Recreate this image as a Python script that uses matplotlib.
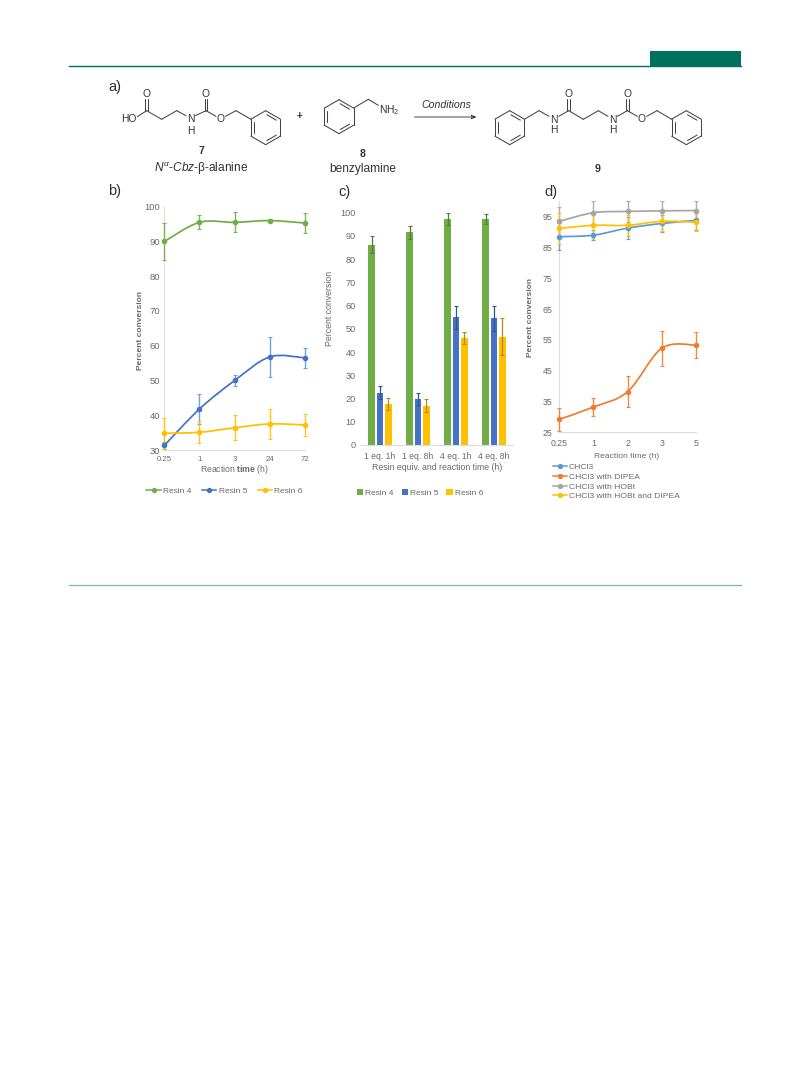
import matplotlib
matplotlib.use("Agg")
import matplotlib.pyplot as plt
from matplotlib.lines import Line2D
from matplotlib.patches import PathPatch, Rectangle, Polygon
from matplotlib.path import Path
import numpy as np

plt.rcParams['font.family'] = ['Liberation Sans', 'DejaVu Sans']
plt.rcParams['mathtext.fontset'] = 'custom'
plt.rcParams['mathtext.rm'] = 'Liberation Sans'
plt.rcParams['mathtext.bf'] = 'Liberation Sans:bold'
plt.rcParams['mathtext.it'] = 'Liberation Sans:italic'

# ---- data ----
times_b = ['0.25', '1', '3', '24', '72']
resin4_b = [90.0, 95.5, 95.5, 96.0, 95.3]
resin4_b_err = [5.3, 2.0, 2.9, 0.5, 2.9]
resin5_b = [31.3, 41.8, 50.0, 56.8, 56.5]
resin5_b_err = [1.0, 4.2, 1.5, 5.7, 2.8]
resin6_b = [34.8, 35.1, 36.4, 37.5, 37.2]
resin6_b_err = [4.5, 3.1, 3.6, 4.4, 3.3]

cats_c = ['1 eq. 1h', '1 eq. 8h', '4 eq. 1h', '4 eq. 8h']
resin4_c = [86.3, 91.5, 97.3, 97.3]
resin4_c_err = [3.7, 2.8, 2.7, 2.0]
resin5_c = [22.5, 19.7, 55.0, 54.5]
resin5_c_err = [2.8, 2.5, 5.0, 5.5]
resin6_c = [17.7, 17.0, 46.0, 46.7]
resin6_c_err = [2.6, 2.7, 2.5, 8.0]

times_d = ['0.25', '1', '2', '3', '5']
chcl3 = [88.5, 89.0, 91.3, 92.8, 93.8]
chcl3_err = [4.3, 1.7, 3.7, 2.7, 3.0]
dipea = [29.2, 33.2, 38.2, 52.3, 53.3]
dipea_err = [3.7, 3.0, 5.0, 5.7, 4.2]
hobt = [93.5, 96.3, 96.7, 96.9, 97.0]
hobt_err = [4.8, 3.7, 3.3, 3.1, 3.0]
hobt_dipea = [91.2, 92.2, 92.2, 93.5, 93.2]
hobt_dipea_err = [5.0, 4.0, 3.5, 3.0, 3.0]

GREEN, BLUE, YEL = '#70ad47', '#4472c4', '#ffc000'
LBLUE, ORANGE, GRAY = '#5b9bd5', '#ed7d31', '#a5a5a5'
TXT = '#6a6a6a'
TEAL = '#00705f'
W, H = 809, 1067

fig = plt.figure(figsize=(W / 100, H / 100), dpi=100, facecolor='white')


def axpx(l, t, r, b):
    return fig.add_axes([l / W, 1 - b / H, (r - l) / W, (b - t) / H])


def style(ax, fs=6.4):
    ax.set_facecolor('none')
    for s in ('top', 'right'):
        ax.spines[s].set_visible(False)
    for s in ('left', 'bottom'):
        ax.spines[s].set_color('#dcdcdc')
        ax.spines[s].set_linewidth(0.8)
    ax.tick_params(length=0, labelsize=fs, labelcolor=TXT, pad=3)


def smooth_path(x, y):
    """Spreadsheet-style smoothed line through the data points."""
    x = np.asarray(x, float); y = np.asarray(y, float)
    n = len(x)
    verts = [(x[0], y[0])]; codes = [Path.MOVETO]
    for i in range(n - 1):
        p0 = i - 1 if i > 0 else 0
        p3 = i + 2 if i + 2 < n else n - 1
        verts += [(x[i] + (x[i + 1] - x[p0]) / 6, y[i] + (y[i + 1] - y[p0]) / 6),
                  (x[i + 1] - (x[p3] - x[i]) / 6, y[i + 1] - (y[p3] - y[i]) / 6),
                  (x[i + 1], y[i + 1])]
        codes += [Path.CURVE4] * 3
    return Path(verts, codes)


def series(ax, y, err, col, ecol=None, ms=3.0):
    x = np.arange(len(y))
    ax.add_patch(PathPatch(smooth_path(x, y), fc='none', ec=col, lw=1.25, clip_on=False, zorder=3))
    cont = ax.errorbar(x, y, yerr=err, fmt='none', ecolor=ecol or col, elinewidth=1.0, capsize=1.3,
                       capthick=0.8, zorder=2.8, alpha=0.9)
    for art in list(cont[1]) + list(cont[2]):
        art.set_clip_on(False)
    ax.plot(x, y, ls='none', marker='o', ms=ms, color=col, clip_on=False, zorder=4)


def handle(col):
    return Line2D([], [], color=col, lw=1.1, marker='o', ms=2.8)


# ---- panel b ----
axb = axpx(164.3, 206.7, 305, 450)
style(axb)
series(axb, resin4_b, resin4_b_err, GREEN)
series(axb, resin5_b, resin5_b_err, BLUE, LBLUE)
series(axb, resin6_b, resin6_b_err, YEL)
axb.set_xlim(0, 4); axb.set_ylim(30, 100)
axb.set_xticks(range(5), times_b)
axb.tick_params(axis='x', labelsize=5.6, pad=4)
axb.tick_params(axis='y', labelsize=6.8)
axb.set_yticks(range(30, 101, 10))
fig.text(140 / W, 1 - 331 / H, 'Percent conversion', rotation=90, fontsize=6, color=TXT,
         ha='center', va='center', fontweight='bold')
fig.text(234 / W, 1 - 470 / H, r'Reaction $\mathbf{time}$ (h)', fontsize=6.2, color=TXT, ha='center', va='center')
fig.legend(handles=[handle(GREEN), handle(BLUE), handle(YEL)], labels=['Resin 4', 'Resin 5', 'Resin 6'],
           loc='center', bbox_to_anchor=(224.5 / W, 1 - 491.5 / H), ncol=3, frameon=False, fontsize=6,
           labelcolor=TXT, handlelength=1.75, handletextpad=0.25, columnspacing=1.25, borderpad=0)

# ---- panel c ----
axc = axpx(361, 212.7, 513, 445)
style(axc)
xc = np.arange(4)
bw, step = 0.175, 0.22
axc.bar(xc - step, resin4_c, bw, color=GREEN, yerr=resin4_c_err, label='Resin 4',
        error_kw=dict(ecolor='#4f7f33', elinewidth=0.9, capsize=1.3, capthick=0.8))
axc.bar(xc, resin5_c, bw, color=BLUE, yerr=resin5_c_err, label='Resin 5',
        error_kw=dict(ecolor='#2f5597', elinewidth=0.9, capsize=1.3, capthick=0.8))
axc.bar(xc + step, resin6_c, bw, color=YEL, yerr=resin6_c_err, label='Resin 6',
        error_kw=dict(ecolor='#b88a10', elinewidth=0.9, capsize=1.3, capthick=0.8))
axc.set_xlim(-0.5, 3.5); axc.set_ylim(0, 100)
axc.set_xticks(xc, cats_c)
axc.set_yticks(range(0, 101, 10))
axc.spines['left'].set_visible(False)
axc.tick_params(axis='x', labelsize=6.2, pad=5)
axc.tick_params(axis='y', labelsize=6.6, pad=4)
fig.text(329 / W, 1 - 308 / H, 'Percent conversion', rotation=90, fontsize=6.3, color=TXT, ha='center', va='center')
fig.text(437 / W, 1 - 467 / H, 'Resin equiv. and reaction time (h)', fontsize=6.3, color=TXT, ha='center', va='center')
h, l = axc.get_legend_handles_labels()
fig.legend(h, l, loc='center', bbox_to_anchor=(420 / W, 1 - 493 / H), ncol=3, frameon=False, fontsize=6,
           labelcolor=TXT, handlelength=0.75, handleheight=0.75, handletextpad=0.25, columnspacing=0.95, borderpad=0)

# ---- panel d ----
axd = axpx(559.3, 201.3, 696, 432.3)
style(axd)
series(axd, chcl3, chcl3_err, LBLUE)
series(axd, dipea, dipea_err, ORANGE)
series(axd, hobt, hobt_err, GRAY)
series(axd, hobt_dipea, hobt_dipea_err, YEL)
axd.set_xlim(0, 4); axd.set_ylim(25, 100)
axd.set_xticks(range(5), times_d)
axd.set_yticks(range(25, 96, 10))
axd.tick_params(axis='x', labelsize=6.3, pad=5)
axd.tick_params(axis='y', labelsize=6.3, pad=5)
fig.text(531 / W, 1 - 317 / H, 'Percent conversion', rotation=90, fontsize=6, color=TXT, ha='center', va='center',
         fontweight='bold')
fig.text(627 / W, 1 - 456 / H, 'Reaction time (h)', fontsize=6.1, color=TXT, ha='center', va='center')
fig.legend(handles=[handle(LBLUE), handle(ORANGE), handle(GRAY), handle(YEL)],
           labels=['CHCl3', 'CHCl3 with DIPEA', 'CHCl3 with HOBt', 'CHCl3 with HOBt and DIPEA'],
           loc='upper left', bbox_to_anchor=(553 / W, 1 - 463 / H), ncol=1, frameon=False, fontsize=6.1,
           labelcolor=TXT, handlelength=1.6, handletextpad=0.3, labelspacing=0.22, borderpad=0, borderaxespad=0)

# ---- page furniture and scheme overlay in pixel coordinates ----
ov = fig.add_axes([0, 0, 1, 1], zorder=10)
ov.set_xlim(0, W); ov.set_ylim(H, 0); ov.axis('off'); ov.patch.set_alpha(0)
ov.plot([69, 741], [66, 66], color=TEAL, lw=1.0)
ov.add_patch(Rectangle((650, 51), 91, 15, fc=TEAL, ec='none'))
ov.plot([69, 741], [585.3, 585.3], color='#78b8aa', lw=0.9)

for txt, x, y in [('a)', 108, 87), ('b)', 108, 191), ('c)', 338, 192), ('d)', 544, 192)]:
    ov.text(x, y, txt, fontsize=10.5, color='#303030', ha='left', va='center')

BK = '#454545'


def bond(p, q, ox, oy, lw=0.75):
    ov.plot([ox + p[0] / 3, ox + q[0] / 3], [oy + p[1] / 3, oy + q[1] / 3], color=BK, lw=lw, solid_capstyle='round')


def lab(s, p, ox, oy, fs=7.4, **kw):
    ov.text(ox + p[0] / 3, oy + p[1] / 3, s, fontsize=fs, color='#333333', ha='center', va='center', **kw)


def ring(cx, cy, ox, oy, r=51):
    a = np.deg2rad(np.arange(-90, 270, 60))
    v = [(cx + r * np.cos(t), cy + r * np.sin(t)) for t in a]
    for i in range(6):
        bond(v[i], v[(i + 1) % 6], ox, oy)
    for i in (0, 2, 4):
        p, q = np.array(v[i]), np.array(v[(i + 1) % 6])
        c = np.array([cx, cy])
        bond(p + (c - p) * 0.2 + (q - p) * 0.08, q + (c - q) * 0.2 + (p - q) * 0.08, ox, oy)


def carbonyl(x, y, ox, oy):
    bond((x - 4, y), (x - 4, y - 36), ox, oy)
    bond((x + 4, y), (x + 4, y - 36), ox, oy)
    lab('O', (x, y - 49), ox, oy)


# compound 7
ox, oy = 100, 75
lab('HO', (85, 133), ox, oy)
for p, q in [((112, 125), (140, 107)), ((140, 107), (185, 133)), ((185, 133), (230, 107)), ((230, 107), (258, 122)),
             ((286, 122), (318, 107)), ((318, 107), (348, 124)), ((376, 124), (408, 107)), ((408, 107), (453, 133))]:
    bond(p, q, ox, oy)
carbonyl(140, 107, ox, oy); carbonyl(318, 107, ox, oy)
lab('N', (272, 132), ox, oy); lab('H', (272, 168), ox, oy); lab('O', (362, 133), ox, oy)
ring(497, 158, ox, oy)
lab('7', (303, 229), ox, oy, fs=7.6, fontweight='bold')
lab(r'$\mathit{N}^{\alpha}$-$\mathit{Cbz}$-β-alanine', (302, 282), ox, oy, fs=8.6)

# compound 8
ox, oy = 290, 75
ring(147, 125, ox, oy)
bond((191, 99), (235, 73), ox, oy); bond((235, 73), (265, 91), ox, oy)
lab('NH$_2$', (298, 105), ox, oy)
lab('+', (27, 124), ox, oy, fs=7, fontweight='bold')
lab('8', (217, 238), ox, oy, fs=7.6, fontweight='bold')
lab('benzylamine', (217, 282), ox, oy, fs=8.6)
lab('Conditions', (470, 90), ox, oy, fs=7.6, style='italic')
ov.plot([ox + 375 / 3, ox + 545 / 3], [oy + 126 / 3] * 2, color='#8a8a8a', lw=1.1)
ov.add_patch(Polygon([(ox + 543 / 3, oy + 119 / 3), (ox + 560 / 3, oy + 126 / 3), (ox + 543 / 3, oy + 133 / 3)],
                     fc='#303030', ec='none'))

# compound 9
ox, oy = 480, 75
ring(89, 158, ox, oy); ring(619, 158, ox, oy)
for p, q in [((133, 133), (177, 107)), ((177, 107), (207, 124)), ((236, 124), (266, 107)), ((266, 107), (310, 133)),
             ((310, 133), (355, 107)), ((355, 107), (384, 124)), ((412, 124), (442, 107)), ((442, 107), (472, 124)),
             ((500, 124), (531, 107)), ((531, 107), (575, 133))]:
    bond(p, q, ox, oy)
carbonyl(266, 107, ox, oy); carbonyl(442, 107, ox, oy)
lab('N', (222, 134), ox, oy); lab('H', (222, 166), ox, oy)
lab('N', (398, 134), ox, oy); lab('H', (398, 166), ox, oy)
lab('O', (486, 133), ox, oy)
lab('9', (353, 282), ox, oy, fs=7.6, fontweight='bold')

fig.savefig('out.png', dpi=100, facecolor='white')
